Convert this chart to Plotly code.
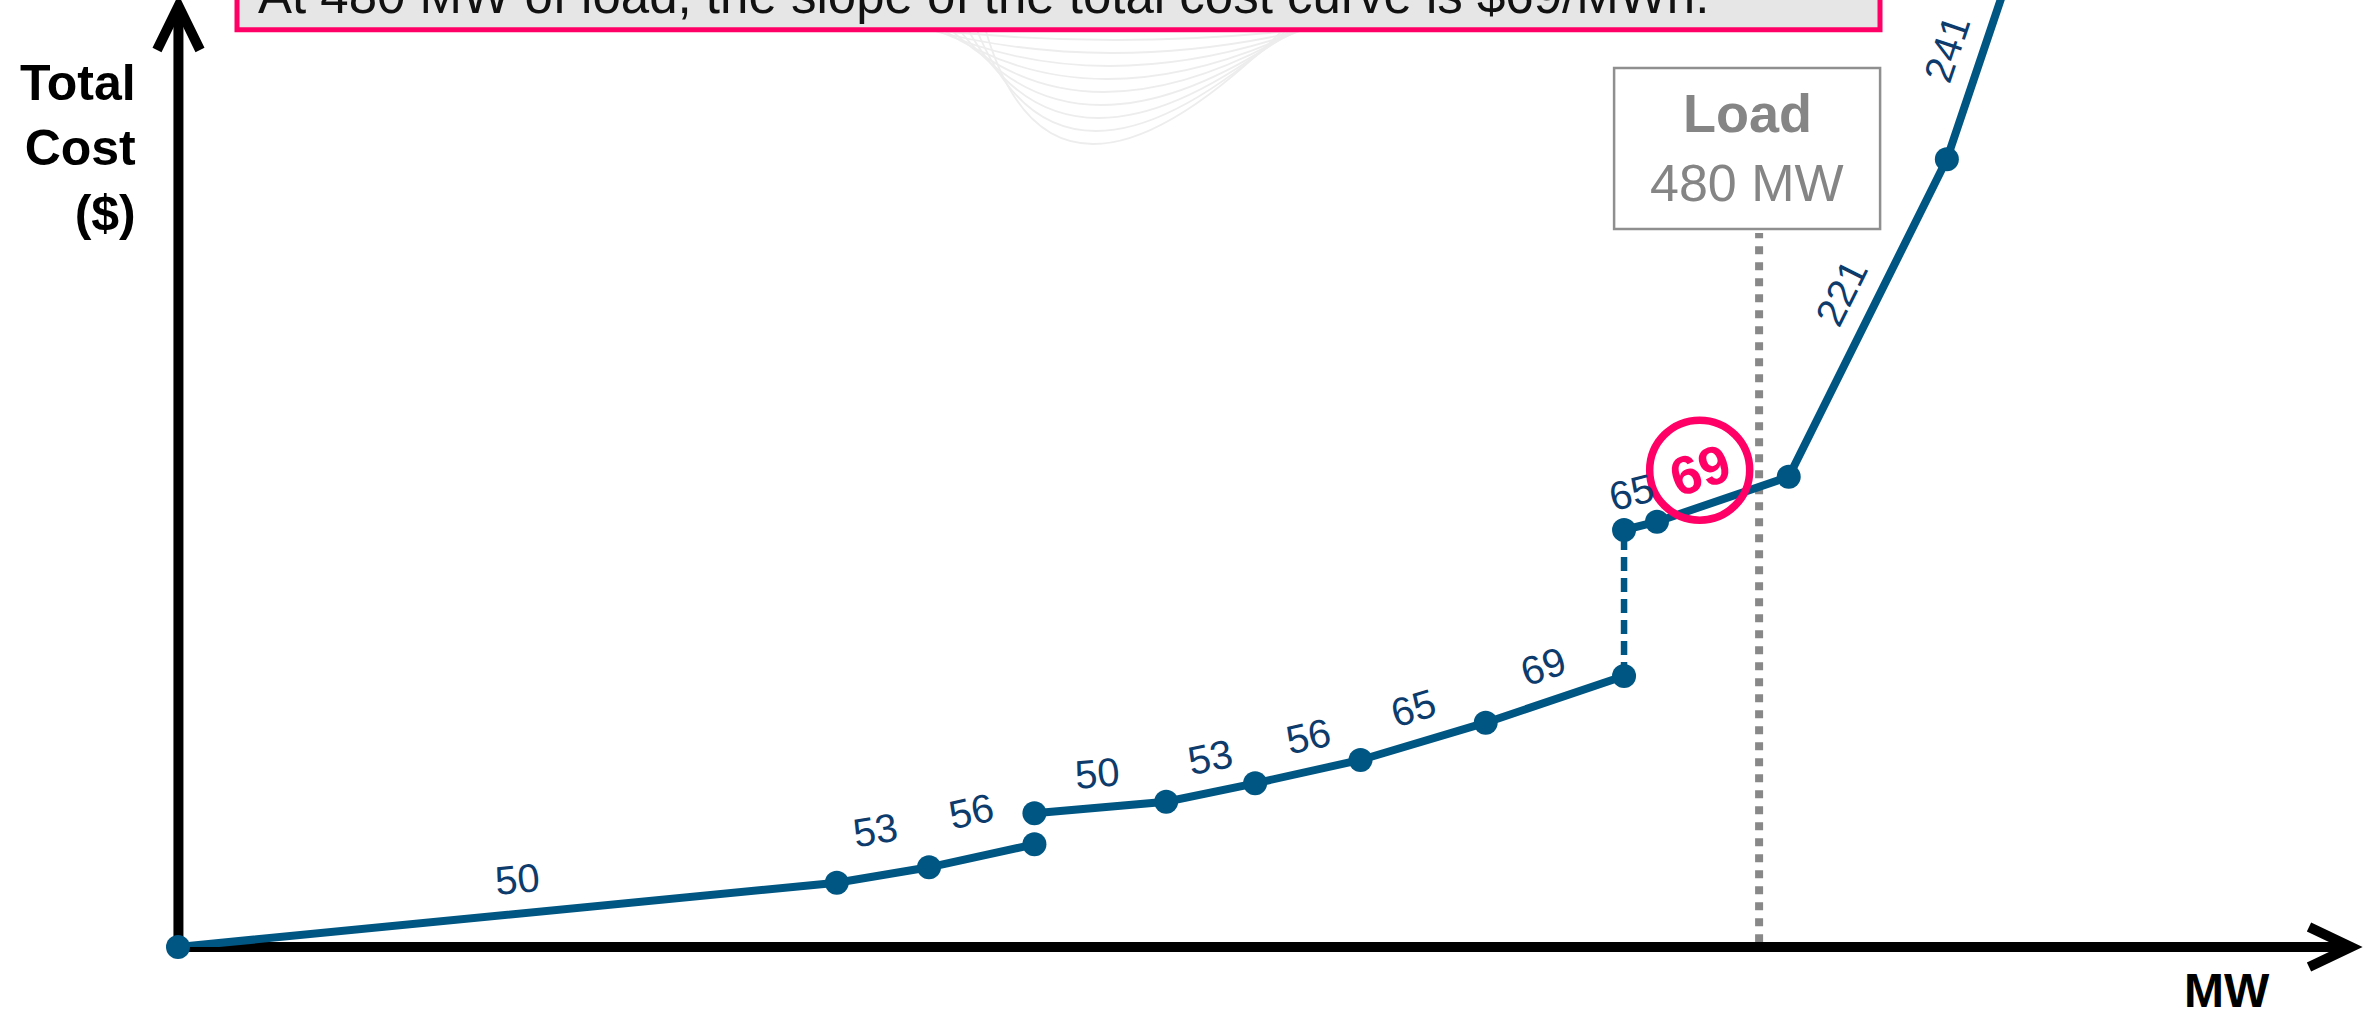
import math
import plotly.graph_objects as go

# ---- data: stepwise total-cost curve (MW, $) ----
MW = [0, 200, 228, 260, 260, 300, 327, 359, 397, 439, 439, 449, 489, 537, 560]
TOTAL_COST = [0, 6430, 7970, 10270, 13370, 14530, 16370, 18700, 22430, 27100,
              41700, 42530, 47030, 78770, 101240]

# runs of points joined by a solid line (start index, end index)
SOLID_RUNS = [(0, 3), (4, 9), (10, 14)]
# jump between blocks drawn dashed
DASHED_RUNS = [(9, 10)]
# points that carry a dot
DOT_COUNT = 14

# incremental cost ($/MWh) written on each segment, keyed by segment start index
SEGMENT_SLOPES = [(0, "50"), (1, "53"), (2, "56"), (4, "50"), (5, "53"), (6, "56"),
                  (7, "65"), (8, "69"), (10, "65"), (11, "69"), (12, "221"), (13, "241")]
HIGHLIGHT_SEGMENT = 11

LOAD_MW = 480
TITLE = "At 480 MW of load, the slope of the total cost curve is $69/MWh."

# ---- layout geometry ----
W, H = 2374, 1016
ML, MR, MT, MB = 178, 21, 0, 69
PW, PH = W - ML - MR, H - MT - MB
X_RANGE = [0, 660.3]
Y_RANGE = [0, 94700]
SX = PW / (X_RANGE[1] - X_RANGE[0])   # px per MW
SY = PH / (Y_RANGE[1] - Y_RANGE[0])   # px per $

LINE_COLOR = "#005682"
LABEL_COLOR = "#0D3B6C"
PINK = "#FF0066"
GRAY = "#858585"
SANS = "Liberation Sans, Arial, sans-serif"

# label placement along / away from each segment
LABEL_T = {0: 0.52, 5: 0.575, 6: 0.58, 11: 0.41, 12: 0.53, 13: 0.44}
LABEL_GAP = {1: 46, 2: 46}


def paper(px, py):
    """page pixel -> paper coordinates"""
    return (px - ML) / PW, (H - MB - py) / PH


fig = go.Figure()

for s, e in SOLID_RUNS:
    fig.add_trace(go.Scatter(x=MW[s:e + 1], y=TOTAL_COST[s:e + 1], mode="lines",
                             line=dict(color=LINE_COLOR, width=8),
                             hoverinfo="skip"))
for s, e in DASHED_RUNS:
    fig.add_trace(go.Scatter(x=MW[s:e + 1], y=TOTAL_COST[s:e + 1], mode="lines",
                             line=dict(color=LINE_COLOR, width=6.5, dash="14px,7px"),
                             hoverinfo="skip"))
fig.add_trace(go.Scatter(x=MW[:DOT_COUNT], y=TOTAL_COST[:DOT_COUNT], mode="markers",
                         marker=dict(color=LINE_COLOR, size=24),
                         cliponaxis=False, hoverinfo="skip"))

annotations = []
shapes = []

# slope labels written along each segment
for i, txt in SEGMENT_SLOPES:
    x0, y0, x1, y1 = MW[i], TOTAL_COST[i], MW[i + 1], TOTAL_COST[i + 1]
    dxp, dyp = (x1 - x0) * SX, (y1 - y0) * SY
    ang = math.atan2(dyp, dxp)
    t = LABEL_T.get(i, 0.5)
    gap = LABEL_GAP.get(i, 35)
    mx, my = x0 + t * (x1 - x0), y0 + t * (y1 - y0)
    ox, oy = -gap * math.sin(ang), gap * math.cos(ang)
    hl = i == HIGHLIGHT_SEGMENT
    annotations.append(dict(
        x=mx, y=my, xref="x", yref="y", text=f"<b>{txt}</b>" if hl else txt,
        xanchor="center", yanchor="middle",
        showarrow=False, xshift=ox, yshift=oy, textangle=-math.degrees(ang),
        font=dict(family=SANS, size=54 if hl else 40,
                  color=PINK if hl else LABEL_COLOR)))
    if hl:
        r = 50
        shapes.append(dict(type="circle", xref="x", yref="y",
                           xsizemode="pixel", ysizemode="pixel",
                           xanchor=mx, yanchor=my,
                           x0=ox - r, x1=ox + r, y0=oy - r, y1=oy + r,
                           line=dict(color=PINK, width=7.5), layer="above"))

# load marker: dotted vertical line and labelled box
_, ly_top = paper(0, 233)
shapes.append(dict(type="line", xref="x", yref="paper", x0=LOAD_MW, x1=LOAD_MW,
                   y0=0.005, y1=ly_top, line=dict(color="#888888", width=8, dash="8px,8px"),
                   layer="below"))
_, by0 = paper(0, 229)
_, by1 = paper(0, 68)
shapes.append(dict(type="rect", xref="x", yref="paper", xsizemode="pixel",
                   xanchor=LOAD_MW, x0=-145, x1=121, y0=by0, y1=by1,
                   line=dict(color="#8F8F8F", width=2.5), fillcolor="white", layer="below"))
_, t1 = paper(0, 113)
_, t2 = paper(0, 183)
annotations.append(dict(x=LOAD_MW, y=t1, xref="x", yref="paper", xshift=-12,
                        xanchor="center", yanchor="middle",
                        text="<b>Load</b>", showarrow=False,
                        font=dict(family=SANS, size=54, color=GRAY)))
annotations.append(dict(x=LOAD_MW, y=t2, xref="x", yref="paper", xshift=-12,
                        xanchor="center", yanchor="middle",
                        text=f"{LOAD_MW} MW", showarrow=False,
                        font=dict(family=SANS, size=52, color=GRAY)))

# faint decorative arcs behind the title
for k in range(9):
    d = 12 + 13 * k
    sx0, sy0 = paper(913 + 9 * k, 28)
    cx, cy = paper(1115 - 8 * k, 28 + 2 * d)
    ex, ey = paper(1317 - 4 * k, 28)
    shapes.append(dict(type="path", xref="paper", yref="paper",
                       path=f"M {sx0},{sy0} Q {cx},{cy} {ex},{ey}",
                       line=dict(color="#EDEDED", width=1.8), layer="below"))

# title banner (runs off the top edge)
bx0, by_bottom = paper(237, 29.7)
bx1, _ = paper(1880, 0)
shapes.append(dict(type="rect", xref="paper", yref="paper", x0=bx0, x1=bx1,
                   y0=by_bottom, y1=1.2, fillcolor="#E6E6E6",
                   line=dict(color=PINK, width=5), layer="above"))
tx, ty = paper(256, -4.5)
annotations.append(dict(x=tx, y=ty, xref="paper", yref="paper", xanchor="left",
                        yanchor="middle", text=TITLE, showarrow=False,
                        font=dict(family=SANS, size=51, color="#111111")))

# axes with arrow heads (beneath the curve so the origin dot sits on top)
ax_w = 10
_, yb = paper(0, 952)
_, yt = paper(0, 7)
shapes.append(dict(type="line", xref="paper", yref="paper", x0=0.0002, x1=0.0002,
                   y0=yb, y1=yt, line=dict(color="black", width=ax_w), layer="below"))
xl, _ = paper(173, 0)
xr, _ = paper(2349, 0)
shapes.append(dict(type="line", xref="paper", yref="paper", x0=xl, x1=xr,
                   y0=0, y1=0, line=dict(color="black", width=ax_w), layer="below"))
a1, a2, a3 = paper(157, 50), paper(178.5, 6), paper(200, 50)
shapes.append(dict(type="path", xref="paper", yref="paper",
                   path=f"M {a1[0]},{a1[1]} L {a2[0]},{a2[1]} L {a3[0]},{a3[1]}",
                   line=dict(color="black", width=ax_w), fillcolor="rgba(0,0,0,0)",
                   layer="below"))
b1, b2, b3 = paper(2309, 927), paper(2351, 947), paper(2309, 967)
shapes.append(dict(type="path", xref="paper", yref="paper",
                   path=f"M {b1[0]},{b1[1]} L {b2[0]},{b2[1]} L {b3[0]},{b3[1]}",
                   line=dict(color="black", width=ax_w), fillcolor="rgba(0,0,0,0)",
                   layer="below"))

# axis titles
yx, yy = paper(138, 148)
annotations.append(dict(x=yx, y=yy, xref="paper", yref="paper", xanchor="right",
                        yanchor="middle", align="right",
                        text="<b>Total<br>Cost<br>($)</b>", showarrow=False,
                        font=dict(family=SANS, size=50, color="black")))
mx_, my_ = paper(2272, 991)
annotations.append(dict(x=mx_, y=my_, xref="paper", yref="paper", xanchor="right",
                        yanchor="middle", text="<b>MW</b>", showarrow=False,
                        font=dict(family=SANS, size=48, color="black")))

axis_style = dict(showgrid=False, zeroline=False, showline=False, showticklabels=False,
                  ticks="", fixedrange=True)
fig.update_layout(
    width=W, height=H, autosize=False,
    margin=dict(l=ML, r=MR, t=MT, b=MB, pad=0),
    paper_bgcolor="white", plot_bgcolor="white",
    showlegend=False,
    xaxis=dict(range=X_RANGE, **axis_style),
    yaxis=dict(range=Y_RANGE, **axis_style),
    shapes=shapes, annotations=annotations,
)

fig.write_html("out.html")
